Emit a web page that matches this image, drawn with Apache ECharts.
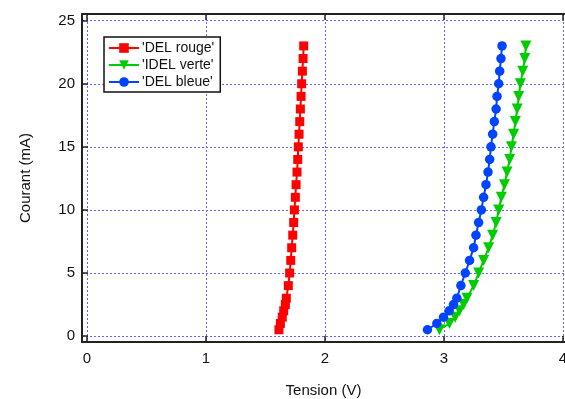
<!DOCTYPE html>
<html><head><meta charset="utf-8">
<script src="https://cdn.jsdelivr.net/npm/echarts@6/dist/echarts.min.js"></script>
<style>html,body{margin:0;padding:0;background:#fff}#c{width:565px;height:399px}</style>
</head><body><div id="c"></div>
<script>
const courant = [0.5,1,1.5,2,2.5,3,4,5,6,7,8,9,10,11,12,13,14,15,16,17,18,19,20,21,22,23];
const tensionRouge = [1.613,1.625,1.641,1.653,1.667,1.675,1.692,1.703,1.712,1.720,1.729,1.737,1.743,1.751,1.757,1.765,1.771,1.776,1.782,1.788,1.793,1.799,1.804,1.810,1.816,1.821];
const tensionVerte = [2.962,3.046,3.094,3.131,3.165,3.193,3.249,3.291,3.333,3.375,3.409,3.438,3.460,3.482,3.508,3.530,3.552,3.567,3.585,3.600,3.615,3.628,3.642,3.662,3.679,3.688];
const tensionBleue = [2.861,2.940,2.996,3.044,3.080,3.108,3.142,3.179,3.215,3.249,3.269,3.291,3.314,3.333,3.353,3.370,3.384,3.395,3.409,3.423,3.438,3.446,3.460,3.468,3.479,3.488];
const xTicks = [0,1,2,3,4];
const yTicks = [0,5,10,15,20,25];
const names = ["'DEL rouge'","'IDEL verte'","'DEL bleue'"];

const pair = (xs) => xs.map((v,i)=>[v, courant[i]]);
const font = 'Liberation Sans, Arial, sans-serif';
const gridLine = {show:true, lineStyle:{color:'#6464ff', type:[2,2], width:1}};
const XMIN = -0.042, XMAX = 4.017, YMIN = -0.47, YMAX = 25.53;
const axisLn = {show:true, onZero:false, lineStyle:{color:'#222', width:2}};
const tickLn = {color:'#222', width:1.5};

const chart = echarts.init(document.getElementById('c'), null, {renderer:'canvas'});
chart.setOption({
  animation:false,
  backgroundColor:'#fff',
  grid:{left:82, right:0, top:14, bottom:57, show:false, containLabel:false, outerBoundsMode:'none'},
  legend:{
    orient:'vertical', left:104, top:37, padding:[4,6,3,4], itemGap:3,
    itemWidth:30, itemHeight:12,
    backgroundColor:'#fff', borderColor:'#111', borderWidth:1.5,
    textStyle:{fontFamily:font, fontSize:14, color:'#111', padding:[0,0,0,-2]},
    data:names
  },
  xAxis:[{
    type:'value', min:XMIN, max:XMAX,
    name:'Tension (V)', nameLocation:'middle', nameGap:41,
    nameTextStyle:{fontFamily:font, fontSize:15, color:'#111'},
    axisLine:axisLn,
    axisTick:{show:true, inside:true, length:6, customValues:xTicks, lineStyle:tickLn},
    axisLabel:{customValues:xTicks, fontFamily:font, fontSize:15, color:'#111', margin:9},
    splitLine:gridLine
  },{
    type:'value', min:XMIN, max:XMAX, position:'top',
    axisLine:axisLn,
    axisTick:{show:true, inside:true, length:6, customValues:xTicks, lineStyle:tickLn},
    axisLabel:{show:false}, splitLine:{show:false}
  }],
  yAxis:[{
    type:'value', min:YMIN, max:YMAX,
    name:'Courant (mA)', nameLocation:'middle', nameGap:49,
    nameTextStyle:{fontFamily:font, fontSize:15, color:'#111'},
    axisLine:axisLn,
    axisTick:{show:true, inside:true, length:6, customValues:yTicks, lineStyle:tickLn},
    axisLabel:{customValues:yTicks, fontFamily:font, fontSize:15, color:'#111', margin:7},
    splitLine:gridLine
  },{
    type:'value', min:YMIN, max:YMAX, position:'right',
    axisLine:{show:false},
    axisTick:{show:true, inside:true, length:6, customValues:yTicks, lineStyle:tickLn},
    axisLabel:{show:false}, splitLine:{show:false}
  }],
  series:[
    {name:names[0], type:'line', data:pair(tensionRouge), symbol:'rect', symbolSize:9,
     itemStyle:{color:'#ff0000'}, lineStyle:{color:'#ff0000', width:2}},
    {name:names[1], type:'line', data:pair(tensionVerte), symbol:'triangle', symbolRotate:180, symbolSize:11,
     itemStyle:{color:'#00cc00'}, lineStyle:{color:'#00cc00', width:2}},
    {name:names[2], type:'line', data:pair(tensionBleue), symbol:'circle', symbolSize:9.5,
     itemStyle:{color:'#0044ff'}, lineStyle:{color:'#0044ff', width:2}}
  ]
});
</script></body></html>
